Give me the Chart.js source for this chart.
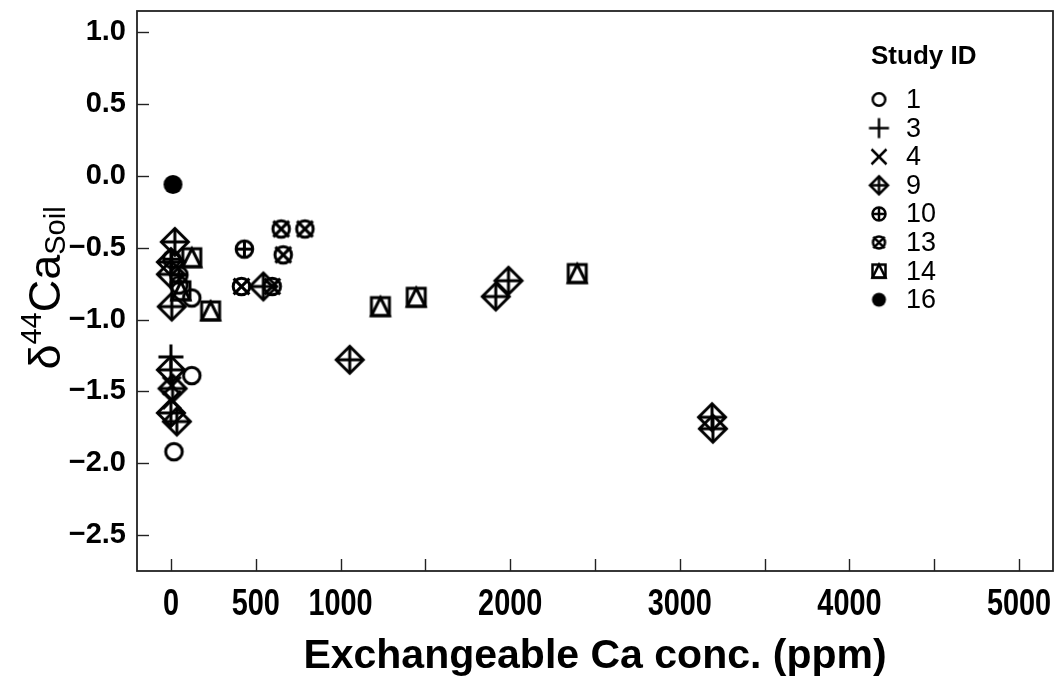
<!DOCTYPE html>
<html><head><meta charset="utf-8">
<script src="https://cdn.jsdelivr.net/npm/chart.js@4.4.1/dist/chart.umd.min.js"></script>
<style>html,body{margin:0;padding:0;background:#fff;}canvas{display:block}</style>
</head><body>
<canvas id="c" width="1062" height="677"></canvas>
<script>
// ---- data ----
const studyIds = ['1', '3', '4', '9', '10', '13', '14', '16'];
const study1X = [47, 123, 123, 18];
const study1Y = [-0.76, -0.85, -1.39, -1.92];
const study3X = [0];
const study3Y = [-1.26];
const study4X = [5, 5];
const study4Y = [-1.46, -1.56];
const study9X = [23, 0, 0, 5, 0, 10, 0, 35, 545, 1054, 1915, 1990, 3190, 3195];
const study9Y = [-0.46, -0.60, -0.685, -0.91, -1.35, -1.48, -1.65, -1.71, -0.77, -1.28, -0.84, -0.73, -1.68, -1.76];
const study10X = [5, 47, 433];
const study10Y = [-0.58, -0.69, -0.51];
const study13X = [416, 597, 650, 790, 662];
const study13Y = [-0.77, -0.77, -0.37, -0.37, -0.55];
const study14X = [123, 59, 234, 1235, 1446, 2395];
const study14Y = [-0.57, -0.80, -0.94, -0.91, -0.845, -0.68];
const study16X = [12];
const study16Y = [-0.06];

const xTickValues = [0, 500, 1000, 1500, 2000, 2500, 3000, 3500, 4000, 4500, 5000];
const xTickLabels = ['0', '500', '1000', '', '2000', '', '3000', '', '4000', '', '5000'];
const yTickValues = [-2.5, -2.0, -1.5, -1.0, -0.5, 0.0, 0.5, 1.0];
const yTickLabels = ['\u22122.5', '\u22122.0', '\u22121.5', '\u22121.0', '\u22120.5', '0.0', '0.5', '1.0'];

const xTitle = 'Exchangeable Ca conc. (ppm)';
const legendTitle = 'Study ID';

// ---- marker drawing ----
const markerTypes = ['circle', 'plus', 'cross', 'diamondPlus', 'circlePlus', 'circleX', 'squareTri', 'dot'];
const plotSizes = {circle: 8.3, plus: 12.5, cross: 9, diamondPlus: 13.5, circlePlus: 8.3, circleX: 8.3, squareTri: 9, dot: 9.5};
const legendSizes = {circle: 6.3, plus: 10, cross: 7.5, diamondPlus: 9, circlePlus: 6.5, circleX: 6, squareTri: 6.5, dot: 7};

function makeMarker(type, s, lw) {
  const size = Math.ceil(2 * (s * 1.1 + lw) + 4);
  const cv = document.createElement('canvas');
  cv.width = size; cv.height = size;
  const g = cv.getContext('2d');
  const c = size / 2;
  g.strokeStyle = '#000'; g.fillStyle = '#000'; g.lineWidth = lw;
  g.lineJoin = 'miter';
  const line = (x1, y1, x2, y2) => { g.beginPath(); g.moveTo(c + x1, c + y1); g.lineTo(c + x2, c + y2); g.stroke(); };
  const circ = (r) => { g.beginPath(); g.arc(c, c, r, 0, Math.PI * 2); g.stroke(); };
  switch (type) {
    case 'circle': circ(s); break;
    case 'plus': line(-s, 0, s, 0); line(0, -s, 0, s); break;
    case 'cross': line(-s, -s, s, s); line(-s, s, s, -s); break;
    case 'diamondPlus':
      g.beginPath(); g.moveTo(c, c - s); g.lineTo(c + s, c); g.lineTo(c, c + s); g.lineTo(c - s, c); g.closePath(); g.stroke();
      line(-s, 0, s, 0); line(0, -s, 0, s); break;
    case 'circlePlus': circ(s); line(-s, 0, s, 0); line(0, -s, 0, s); break;
    case 'circleX': { circ(s); const h = s * 0.95; line(-h, -h, h, h); line(-h, h, h, -h); break; }
    case 'squareTri':
      g.strokeRect(c - s, c - s, 2 * s, 2 * s);
      g.beginPath(); g.moveTo(c, c - s); g.lineTo(c + s, c + s); g.lineTo(c - s, c + s); g.closePath(); g.stroke(); break;
    case 'dot': g.beginPath(); g.arc(c, c, s, 0, Math.PI * 2); g.fill(); break;
  }
  return cv;
}

const seriesX = [study1X, study3X, study4X, study9X, study10X, study13X, study14X, study16X];
const seriesY = [study1Y, study3Y, study4Y, study9Y, study10Y, study13Y, study14Y, study16Y];

const datasets = studyIds.map((id, k) => {
  const t = markerTypes[k];
  return {
    label: id,
    data: seriesX[k].map((x, i) => ({x: x, y: seriesY[k][i]})),
    pointStyle: makeMarker(t, plotSizes[t], 3),
    legendMarker: makeMarker(t, legendSizes[t], 2.5),
    pointRadius: 8,
    showLine: false
  };
});

const FAM = '"Liberation Sans", Arial, Helvetica, sans-serif';

// ---- plugins ----
const boxAndTicks = {
  id: 'boxAndTicks',
  afterDraw(chart) {
    const {ctx, chartArea: a, scales} = chart;
    ctx.save();
    ctx.strokeStyle = '#222';
    ctx.lineWidth = 1.8;
    ctx.strokeRect(a.left, a.top, a.right - a.left, a.bottom - a.top);
    ctx.lineWidth = 1.4;
    const tl = 12;
    scales.x.ticks.forEach(t => {
      const px = Math.round(scales.x.getPixelForValue(t.value)) + 0.5;
      ctx.beginPath(); ctx.moveTo(px, a.bottom); ctx.lineTo(px, a.bottom - tl); ctx.stroke();
    });
    scales.y.ticks.forEach(t => {
      const py = Math.round(scales.y.getPixelForValue(t.value)) + 0.5;
      ctx.beginPath(); ctx.moveTo(a.left, py); ctx.lineTo(a.left + tl, py); ctx.stroke();
    });
    // x tick labels (condensed bold)
    ctx.fillStyle = '#000';
    ctx.font = 'bold 37px ' + FAM;
    ctx.textAlign = 'center';
    ctx.textBaseline = 'middle';
    scales.x.ticks.forEach((t, i) => {
      const lab = xTickLabels[i];
      if (!lab) return;
      const px = scales.x.getPixelForValue(t.value);
      ctx.save();
      ctx.translate(px, a.bottom + 34);
      ctx.scale(0.78, 1);
      ctx.fillText(lab, 0, 0);
      ctx.restore();
    });
    ctx.restore();
  }
};

const yTitlePlugin = {
  id: 'yTitle',
  afterDraw(chart) {
    const ctx = chart.ctx;
    const parts = [
      {t: '\u03b4', f: '45px ' + FAM, dy: 0},
      {t: '44', f: '29px ' + FAM, dy: -19},
      {t: 'Ca', f: '45px ' + FAM, dy: 0},
      {t: 'Soil', f: '29px ' + FAM, dy: 5}
    ];
    ctx.save();
    let total = 0;
    parts.forEach(p => { ctx.font = p.f; p.w = ctx.measureText(p.t).width; total += p.w; });
    ctx.translate(60, 288);
    ctx.rotate(-Math.PI / 2);
    ctx.fillStyle = '#000';
    ctx.textBaseline = 'alphabetic';
    ctx.textAlign = 'left';
    let x = -total / 2;
    parts.forEach(p => { ctx.font = p.f; ctx.fillText(p.t, x, p.dy); x += p.w; });
    ctx.restore();
  }
};

const legendPlugin = {
  id: 'innerLegend',
  afterDraw(chart) {
    const ctx = chart.ctx;
    ctx.save();
    ctx.fillStyle = '#000';
    ctx.font = 'bold 26px ' + FAM;
    ctx.textBaseline = 'middle';
    ctx.textAlign = 'left';
    ctx.fillText(legendTitle, 871, 57);
    ctx.font = '27px ' + FAM;
    chart.data.datasets.forEach((ds, i) => {
      const y = 99.5 + i * 28.6;
      const m = ds.legendMarker;
      ctx.drawImage(m, 879 - m.width / 2, y - m.height / 2);
      ctx.fillText(ds.label, 906, y + 1);
    });
    ctx.restore();
  }
};

new Chart(document.getElementById('c'), {
  type: 'scatter',
  data: {datasets: datasets},
  options: {
    responsive: false,
    animation: false,
    layout: {padding: {top: 11, right: 3, left: 0, bottom: 0}},
    plugins: {legend: {display: false}, tooltip: {enabled: false}},
    scales: {
      x: {
        type: 'linear', min: -200, max: 5200,
        afterBuildTicks: s => { s.ticks = xTickValues.map(v => ({value: v})); },
        afterFit: s => { s.height = 106; s.paddingLeft = 0; s.paddingRight = 0; },
        grid: {display: false, drawTicks: false},
        border: {display: false},
        ticks: {display: false, autoSkip: false, maxRotation: 0},
        title: {
          display: true, text: xTitle, color: '#000',
          font: {family: FAM, size: 41, weight: 'bold', lineHeight: 1},
          padding: {top: 0, bottom: 0}
        }
      },
      y: {
        type: 'linear', min: -2.75, max: 1.147,
        afterBuildTicks: s => { s.ticks = yTickValues.map(v => ({value: v})); },
        afterFit: s => { s.width = 137; s.paddingTop = 0; s.paddingBottom = 0; },
        grid: {display: false, drawTicks: false},
        border: {display: false},
        ticks: {
          autoSkip: false, padding: 11, color: '#000',
          font: {family: FAM, size: 29, weight: 'bold'},
          callback: (v, i) => yTickLabels[i]
        }
      }
    }
  },
  plugins: [boxAndTicks, yTitlePlugin, legendPlugin]
});
</script>
</body></html>
